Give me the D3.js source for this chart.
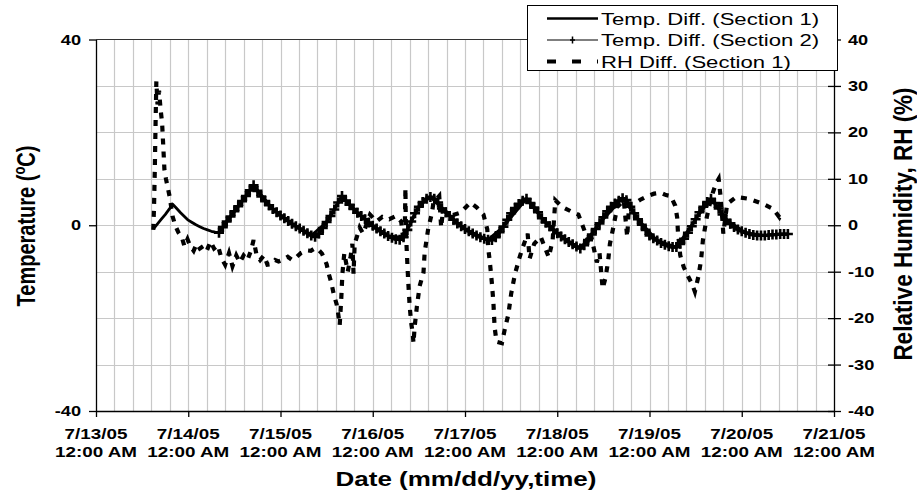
<!DOCTYPE html>
<html>
<head>
<meta charset="utf-8">
<script src="https://cdn.jsdelivr.net/npm/d3@7"></script>
<style>
body{margin:0;background:#fff;}
text{font-family:"Liberation Sans",Arial,sans-serif;fill:#000;}
</style>
</head>
<body>
<svg id="chart" width="917" height="493"></svg>
<script>
// all times are hours after 7/13/05 12:00 AM
var dayLabels = ["7/13/05","7/14/05","7/15/05","7/16/05","7/17/05","7/18/05","7/19/05","7/20/05","7/21/05"];
var tempTicks = [-40, 0, 40];
var rhTicks = [-40, -30, -20, -10, 0, 10, 20, 30, 40];
var seriesNames = ["Temp. Diff. (Section 1)", "Temp. Diff. (Section 2)", "RH Diff. (Section 1)"];

// Temp. Diff. (Section 1), [hour, degC]
var sec1 = [[15,-0.7],[16,0.3],[17,1.3],[18,2.3],[19,3.4],[20,4.5],[21,3.6],[22,2.7],[23,1.9],[24,1.1],
  [25,0.6],[26,0.1],[27,-0.3],[28,-0.7],[29,-1.0],[30,-1.3],[31,-1.5],[32,-1.6],[36,3.0],[41,8.6],
  [46,3.5],[51,0.3],[56,-2.2],[60,0.7],[64,6.3],[68,2.7],[72,-0.1],[76,-2.3],[80,-2.6],[84,4.0],
  [87,6.1],[91,2.8],[96,-0.8],[102,-3.1],[106,-0.3],[112,5.7],[116,1.5],[121,-2.4],[126,-5.0],[131,0.4],
  [137,5.8],[141,1.3],[146,-3.3],[151,-4.7],[156,1.3],[160,5.7],[164,1.2],[169,-1.6],[174,-2.2],[180,-1.9]];

// Temp. Diff. (Section 2), hourly readings from hour 32
var sec2Start = 32;
var sec2 = [-1.6,-0.4,0.8,1.9,3.0,4.1,5.2,6.3,7.5,8.6,7.4,6.2,5.2,4.3,3.5,2.8,2.1,1.5,0.9,0.3,
  -0.2,-0.7,-1.2,-1.7,-2.2,-2.5,-1.8,-0.6,0.7,2.0,3.4,4.9,6.3,5.3,4.4,3.5,2.7,2.0,1.3,0.6,
  -0.1,-0.7,-1.3,-1.8,-2.3,-2.7,-3.0,-3.1,-2.6,-1.0,0.8,2.6,4.0,5.0,5.7,6.1,5.7,4.9,3.6,2.8,
  2.0,1.2,0.4,-0.2,-0.8,-1.3,-1.8,-2.2,-2.6,-2.9,-3.1,-3.2,-2.6,-1.5,-0.3,1.2,2.6,3.7,4.6,5.3,
  5.7,4.8,3.8,2.8,1.5,0.6,-0.2,-1.0,-1.7,-2.4,-3.0,-3.6,-4.1,-4.6,-5.0,-4.3,-3.2,-2.0,-0.8,0.4,
  1.7,3.0,4.0,4.7,5.3,5.8,5.4,4.0,2.6,1.3,0.1,-1.0,-2.2,-2.8,-3.3,-3.8,-4.2,-4.5,-4.7,-4.7,
  -4.0,-2.9,-1.6,-0.2,1.3,2.8,4.0,5.0,5.7,4.8,3.6,2.3,1.2,0.3,-0.4,-0.9,-1.3,-1.6,-1.9,-2.1,
  -2.2,-2.2,-2.2,-2.1,-2.0,-2.0,-1.9,-1.9,-1.9];

// RH Diff. (Section 1), [hour, %]
var rh = [[14.9,-1],[15.1,4],[15.3,12],[15.5,22],[15.7,31],[16.0,26],[16.4,29],[16.8,25],[17.2,22],[17.5,17],
  [17.8,12],[18.2,10],[18.7,8],[19.2,6],[19.9,2],[20.6,0],[21.4,-1.5],[22.3,-2.5],[23.0,-4.5],[23.8,-3],
  [24.5,-4.5],[25.4,-5.5],[26.2,-4],[27.0,-5],[27.9,-4.5],[28.8,-5.5],[29.8,-3.5],[30.7,-5],[31.7,-4.3],[32.6,-7],
  [33.6,-8.5],[34.6,-6],[35.5,-8.8],[36.5,-6.5],[37.4,-8],[38.4,-6.5],[39.4,-7.5],[40.3,-5.5],[41.0,-3.2],[41.8,-6.5],
  [42.7,-7.5],[43.7,-6.5],[44.6,-8.5],[45.6,-8.4],[46.6,-7.5],[47.5,-7.8],[48.7,-7.4],[49.9,-6.8],[51.1,-7.5],[52.1,-6.9],
  [53.3,-6],[54.7,-5.4],[55.9,-5.5],[57.1,-4.9],[58.1,-5.5],[58.8,-6.1],[60.0,-8.4],[60.5,-10.3],[61.2,-12.3],[61.9,-15],
  [62.6,-17],[63.0,-19],[63.4,-21.5],[63.8,-16],[64.1,-10.5],[64.6,-6],[65.5,-10],[66.2,-7],[66.7,-4],[67.0,-10.4],
  [67.3,-4],[68.6,-0.5],[69.5,-1.8],[71.3,2.3],[73.0,0.8],[74.5,1.8],[76.3,1.3],[78.0,2.0],[79.4,0.8],[79.8,-2],
  [80.3,-3.2],[80.5,8],[80.6,1],[80.8,-4.6],[81.2,-11.7],[81.6,-17.4],[82.0,-21],[82.4,-23.3],[82.6,-25.4],[82.9,-21.9],
  [83.5,-17.4],[84.2,-13.1],[85.2,-10.2],[85.5,-5.9],[86.4,-0.9],[87.4,2.7],[87.8,4.9],[89.3,6.3],[89.8,-0.5],[90.3,3.4],
  [92.2,2],[94.8,2.7],[97.4,4.9],[99.1,3.8],[100.8,2.3],[101.8,-0.9],[102.0,-4.6],[102.5,-8.2],[103.0,-12.5],[103.4,-16.8],
  [103.7,-21.9],[104.2,-25.1],[105.6,-25.4],[106.3,-22.6],[107.3,-19.1],[108.0,-14.8],[109.0,-10.5],[110.2,-6.9],[111.1,-4.6],[112.3,-1.8],
  [112.8,-7.2],[114.0,-4],[115.7,-2.5],[117.8,-6.9],[118.8,-3.2],[119.5,5.4],[121.2,4],[123.8,2.9],[125.5,2.3],[126.2,0.8],
  [128.0,-3.2],[128.6,-1.5],[130.3,-8],[131.0,-6],[131.8,-13.6],[132.5,-11.5],[133.2,-8],[133.7,-4],[134.6,-0.4],[135.6,3.9],
  [137.3,5.4],[138.2,-2.5],[138.7,4.6],[139.9,4.6],[141.6,5.5],[143.5,6.3],[145.2,6.8],[146.9,7],[148.3,6.5],[149.5,6.3],
  [150.7,4.2],[151.2,1.7],[151.4,-1.5],[152.0,-6.5],[152.9,-9],[154.1,-11.1],[155.0,-12.5],[155.8,-14.3],[156.7,-11.1],[157.4,-7.6],
  [157.9,-3.2],[158.9,1.7],[160.1,6.1],[161.3,9],[162.0,10],[162.5,6.1],[163.0,0.7],[163.2,-1.8],[164.2,4.6],[166.6,6.1],
  [169.9,5.7],[173.5,4.6],[176.2,3.5],[177.8,1.7],[178.3,2.5]];

var base = new Date(2005, 6, 13);
function hr(h){ return new Date(base.getTime() + h * 3600000); }

var SX = 1.3; // the original picture is stretched sideways
var plotL = 96, plotR = 834, plotT = 39.5, plotB = 411;

var svg = d3.select("#chart");
svg.append("rect").attr("width", 917).attr("height", 493).attr("fill", "#fff");

var x = d3.scaleTime().domain([base, hr(192)]).range([plotL, plotR]);
var y = d3.scaleLinear().domain([-40, 40]).range([plotB, plotT]);
var yR = d3.scaleLinear().domain([-40, 40]).range([plotB, plotT]);

function label(str, px, py, size, weight, anchor, rot, sx){
    return svg.append("text")
        .attr("transform", "translate(" + px + "," + py + ") scale(" + (sx || SX) + ",1)" + (rot ? " rotate(" + rot + ")" : ""))
        .attr("font-size", size)
        .attr("font-weight", weight)
        .attr("text-anchor", anchor)
        .text(str);
}

// grid
var grid = svg.append("g");
grid.selectAll("line.v")
    .data(d3.range(1, 40))
    .enter().append("line")
    .attr("class", "v")
    .attr("x1", function(d){ return Math.round(x(hr(d * 4.8))) + 0.5; })
    .attr("x2", function(d){ return Math.round(x(hr(d * 4.8))) + 0.5; })
    .attr("y1", plotT).attr("y2", plotB)
    .attr("stroke", "#c8c8c8").attr("stroke-width", 1.2);
grid.selectAll("line.h")
    .data(d3.range(-30, 40, 10))
    .enter().append("line")
    .attr("class", "h")
    .attr("x1", plotL).attr("x2", plotR)
    .attr("y1", function(d){ return Math.round(y(d)) + 0.5; })
    .attr("y2", function(d){ return Math.round(y(d)) + 0.5; })
    .attr("stroke", "#c8c8c8").attr("stroke-width", 1.2);
grid.append("line")
    .attr("x1", plotL).attr("x2", plotR).attr("y1", plotT).attr("y2", plotT)
    .attr("stroke", "#333").attr("stroke-width", 1);

// axes
var dayTicks = d3.range(0, 9).map(function(i){ return hr(i * 24); });
var gx = svg.append("g").attr("transform", "translate(0," + plotB + ")")
    .call(d3.axisBottom(x).tickValues(dayTicks).tickSize(6).tickSizeOuter(0).tickFormat(""));
var gl = svg.append("g").attr("transform", "translate(" + plotL + ",0)")
    .call(d3.axisLeft(y).tickValues(tempTicks).tickSize(7).tickSizeOuter(0).tickFormat(""));
var gr = svg.append("g").attr("transform", "translate(" + plotR + ",0)")
    .call(d3.axisRight(yR).tickValues(rhTicks).tickSize(7).tickSizeOuter(0).tickFormat(""));
gr.selectAll(".tick line").attr("x1", -6);
[gx, gl, gr].forEach(function(g){
    g.select(".domain").attr("stroke", "#000").attr("stroke-width", 1.3);
    g.selectAll(".tick line").attr("stroke", "#000").attr("stroke-width", 1.3);
});

tempTicks.forEach(function(v){ label(String(v), 81, y(v) + 5, 14, "bold", "end"); });
rhTicks.forEach(function(v){ label(String(v), 848, yR(v) + 5, 14, "bold", "start"); });
dayTicks.forEach(function(t, i){
    label(dayLabels[i], x(t), 439, 14.5, "bold", "middle");
    label("12:00 AM", x(t), 457, 14.5, "bold", "middle");
});

// axis titles
var tl = label("", 35, 226, 20, "bold", "middle", -90);
tl.append("tspan").text("Temperature (");
tl.append("tspan").attr("font-size", 13).attr("dy", -8).text("o");
tl.append("tspan").attr("dy", 8).text("C)");
label("Relative Humidity, RH (%)", 912, 224, 22.5, "bold", "middle", -90, 1.12);
label("Date (mm/dd/yy,time)", 466, 486, 20, "bold", "middle");

// series
var line = d3.line()
    .x(function(d){ return x(hr(d[0])); })
    .y(function(d){ return y(d[1]); });
var sec2Pts = sec2.map(function(v, i){ return [sec2Start + i, v]; });

svg.append("path").datum(sec1)
    .attr("d", line)
    .attr("fill", "none").attr("stroke", "#000").attr("stroke-width", 2.8)
    .attr("stroke-linejoin", "round");

svg.append("path").datum(sec2Pts)
    .attr("d", line)
    .attr("fill", "none").attr("stroke", "#000").attr("stroke-width", 3.2)
    .attr("stroke-linejoin", "round");

var plus = "M-5,0H5M0,-5V5";
svg.append("g").selectAll("path.plus")
    .data(sec2Pts)
    .enter().append("path")
    .attr("class", "plus")
    .attr("transform", function(d){ return "translate(" + x(hr(d[0])) + "," + y(d[1]) + ")"; })
    .attr("d", plus)
    .attr("stroke", "#000").attr("stroke-width", 2.6);

var rhLine = d3.line()
    .x(function(d){ return x(hr(d[0])); })
    .y(function(d){ return yR(d[1]); });
svg.append("path").datum(rh)
    .attr("d", rhLine)
    .attr("fill", "none").attr("stroke", "#000").attr("stroke-width", 4.2)
    .attr("stroke-dasharray", "6,7");

// legend
var lg = svg.append("g");
lg.append("rect")
    .attr("x", 527.5).attr("y", 5.5).attr("width", 310).attr("height", 65)
    .attr("fill", "#fff").attr("stroke", "#000").attr("stroke-width", 1);
var rowY = [18.5, 40, 61.5];
lg.append("line").attr("x1", 547).attr("x2", 598).attr("y1", rowY[0]).attr("y2", rowY[0])
    .attr("stroke", "#000").attr("stroke-width", 2.5);
lg.append("line").attr("x1", 547).attr("x2", 598).attr("y1", rowY[1]).attr("y2", rowY[1])
    .attr("stroke", "#000").attr("stroke-width", 1.2);
lg.append("path").attr("transform", "translate(572.5," + rowY[1] + ")").attr("d", "M-2.5,0H2.5M0,-3.5V3.5")
    .attr("stroke", "#000").attr("stroke-width", 1.5);
lg.append("line").attr("x1", 547).attr("x2", 598).attr("y1", rowY[2]).attr("y2", rowY[2])
    .attr("stroke", "#000").attr("stroke-width", 4).attr("stroke-dasharray", "9,16");
seriesNames.forEach(function(s, i){
    label(s, 601, rowY[i] + 6, 17, "normal", "start");
});
</script>
</body>
</html>
